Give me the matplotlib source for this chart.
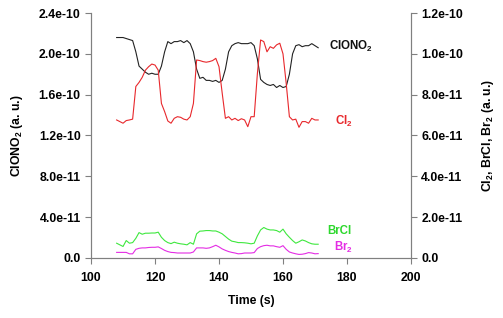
import numpy as np
import matplotlib
matplotlib.use("Agg")
import matplotlib.pyplot as plt

plt.rcParams['font.family'] = ['Liberation Sans', 'DejaVu Sans']
plt.rcParams['font.weight'] = 'bold'
plt.rcParams['mathtext.fontset'] = 'custom'
plt.rcParams['mathtext.bf'] = 'Liberation Sans:bold'
plt.rcParams['mathtext.rm'] = 'Liberation Sans:bold'
plt.rcParams['mathtext.default'] = 'bf'

time = list(range(108, 172))

clono2 = [2.16, 2.16, 2.16, 2.15, 2.14, 2.13, 2.02, 1.88, 1.85, 1.82,
          1.80, 1.81, 1.80, 1.80, 1.88, 2.02, 2.12, 2.10, 2.12, 2.12,
          2.13, 2.11, 2.13, 2.10, 2.02, 1.85, 1.76, 1.77, 1.74, 1.74,
          1.73, 1.74, 1.72, 1.74, 1.85, 2.02, 2.08, 2.10, 2.11, 2.10,
          2.10, 2.10, 2.11, 2.08, 1.95, 1.75, 1.72, 1.70, 1.69, 1.70,
          1.67, 1.69, 1.67, 1.68, 1.80, 2.00, 2.08, 2.09, 2.07, 2.08,
          2.08, 2.10, 2.08, 2.06]  # e-10

cl2 = [6.76, 6.68, 6.60, 6.73, 6.76, 6.80, 8.40, 8.60, 8.85, 9.20,
       9.37, 9.50, 9.45, 9.20, 7.57, 7.17, 6.71, 6.60, 6.84, 6.92,
       6.89, 6.80, 6.76, 6.92, 7.57, 9.70, 9.67, 9.62, 9.59, 9.62,
       9.67, 9.78, 9.37, 8.07, 6.84, 6.92, 6.76, 6.84, 6.73, 6.82,
       6.76, 6.43, 6.92, 6.92, 9.04, 10.68, 10.60, 10.10, 10.35, 10.27,
       10.44, 10.52, 10.00, 8.56, 6.92, 6.76, 6.80, 6.40, 6.68, 6.68,
       6.60, 6.84, 6.76, 6.76]  # e-11

brcl = [0.72, 0.64, 0.56, 0.85, 0.72, 0.75, 0.96, 1.24, 1.16, 1.21,
        1.21, 1.22, 1.22, 1.26, 1.01, 0.85, 0.75, 0.70, 0.77, 0.72,
        0.69, 0.67, 0.64, 0.75, 0.67, 1.18, 1.31, 1.32, 1.34, 1.34,
        1.32, 1.32, 1.26, 1.18, 1.05, 0.92, 0.82, 0.79, 0.75, 0.75,
        0.74, 0.72, 0.69, 0.72, 1.08, 1.37, 1.49, 1.41, 1.37, 1.37,
        1.34, 1.26, 1.41, 1.18, 1.01, 0.85, 0.72, 0.79, 0.88, 0.83,
        0.75, 0.69, 0.67, 0.67]  # e-11

br2 = [0.27, 0.27, 0.27, 0.27, 0.20, 0.20, 0.42, 0.47, 0.49, 0.49,
       0.51, 0.52, 0.52, 0.54, 0.46, 0.37, 0.31, 0.27, 0.26, 0.24,
       0.24, 0.24, 0.24, 0.24, 0.29, 0.49, 0.49, 0.49, 0.47, 0.49,
       0.55, 0.62, 0.54, 0.44, 0.37, 0.31, 0.27, 0.24, 0.20, 0.21,
       0.24, 0.24, 0.24, 0.26, 0.46, 0.55, 0.60, 0.62, 0.59, 0.59,
       0.55, 0.52, 0.60, 0.42, 0.29, 0.24, 0.20, 0.17, 0.18, 0.21,
       0.26, 0.24, 0.20, 0.21]  # e-11

left_ticks = [0, 4e-11, 8e-11, 1.2e-10, 1.6e-10, 2.0e-10, 2.4e-10]
left_labels = ['0.0', '4.0e-11', '8.0e-11', '1.2e-10', '1.6e-10', '2.0e-10', '2.4e-10']
right_ticks = [0, 2e-11, 4e-11, 6e-11, 8e-11, 1.0e-10, 1.2e-10]
right_labels = ['0.0', '2.0e-11', '4.0e-11', '6.0e-11', '8.0e-11', '1.0e-10', '1.2e-10']
x_ticks = [100, 120, 140, 160, 180, 200]

t = np.array(time)
fig = plt.figure(figsize=(5.03, 3.18), dpi=100)
ax = fig.add_axes([0.181, 0.189, 0.636, 0.770])
ax2 = ax.twinx()

ax.plot(t, np.array(clono2) * 1e-10, color='#222222', lw=0.8)
ax2.plot(t, np.array(cl2) * 1e-11, color='#e8282c', lw=0.8)
ax2.plot(t, np.array(brcl) * 1e-11, color='#3ee83e', lw=0.8)
ax2.plot(t, np.array(br2) * 1e-11, color='#e42ce4', lw=0.8)

ax.set_xlim(100, 200)
ax.set_ylim(0, 2.4e-10)
ax2.set_ylim(0, 1.2e-10)
ax.set_xticks(x_ticks)
ax.set_xticklabels([str(v) for v in x_ticks])
ax.set_yticks(left_ticks)
ax.set_yticklabels(left_labels)
ax2.set_yticks(right_ticks)
ax2.set_yticklabels(right_labels)

spc = '#808080'
for a in (ax, ax2):
    for s in a.spines.values():
        s.set_color(spc)
        s.set_linewidth(0.8)
    a.spines['top'].set_visible(False)
    a.tick_params(axis='both', labelsize=8.8, color=spc, length=4, width=0.8, direction='out')
ax.tick_params(axis='x', pad=6)

ax.set_xlabel('Time (s)', fontsize=8.8, fontweight='bold', labelpad=8)
ax.set_ylabel('ClONO$_2$ (a. u.)', fontsize=8.8, fontweight='bold', labelpad=10)
ax2.set_ylabel('Cl$_2$, BrCl, Br$_2$ (a. u.)', fontsize=8.8, fontweight='bold', labelpad=12)

ax.text(174.5, 2.07e-10, 'ClONO$_2$', color='#111111', fontsize=8.3, fontweight='bold', va='center')
ax2.text(176.3, 6.7e-11, 'Cl$_2$', color='#e8282c', fontsize=8.3, fontweight='bold', va='center')
ax2.text(173.7, 1.33e-11, 'BrCl', color='#2ed82e', fontsize=8.3, fontweight='bold', va='center')
ax2.text(176.0, 5.3e-12, 'Br$_2$', color='#e42ce4', fontsize=8.3, fontweight='bold', va='center')

fig.savefig('out.png', dpi=100)
